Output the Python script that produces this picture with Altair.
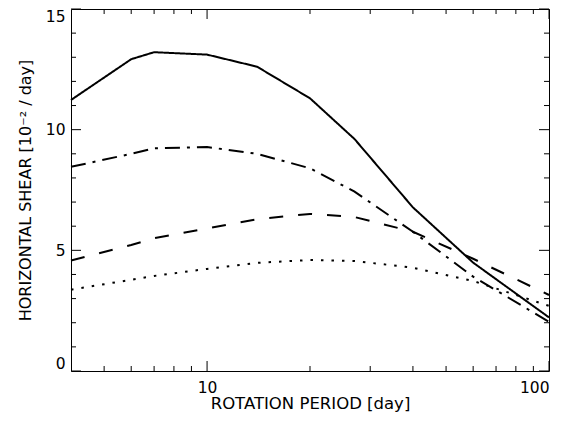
import altair as alt
import pandas as pd

# rotation period [day]
period = [4, 6, 7, 10, 14, 20, 27, 40, 60, 100]

# horizontal shear [1e-2 / day]
shear_solid = [11.23, 12.92, 13.21, 13.11, 12.61, 11.30, 9.61, 6.78, 4.49, 2.22]
shear_dashdot = [8.46, 9.00, 9.23, 9.28, 9.00, 8.40, 7.43, 5.77, 3.91, 2.04]
shear_dashed = [4.58, 5.22, 5.50, 5.91, 6.29, 6.51, 6.38, 5.77, 4.65, 3.15]
shear_dotted = [3.37, 3.78, 3.94, 4.23, 4.48, 4.60, 4.56, 4.28, 3.73, 2.70]

series_names = ["solid", "dashdot", "dashed", "dotted"]
series_values = [shear_solid, shear_dashdot, shear_dashed, shear_dotted]
series_dash = [[1, 0], [15, 7, 3, 7], [14, 15], [2.5, 8]]

# axis tick values
x_major = [10, 100]
x_minor = [5, 6, 7, 8, 9, 20, 30, 40, 50, 60, 70, 80, 90]
y_major = [0, 5, 10, 15]
y_minor = [1, 2, 3, 4, 6, 7, 8, 9, 11, 12, 13, 14]

rows = []
for name, vals in zip(series_names, series_values):
    for p, v in zip(period, vals):
        rows.append({"series": name, "period": p, "shear": v})
df = pd.DataFrame(rows)

W, H = 478, 362
MAJ, MIN = 10, 5
FONT = "DejaVu Sans"
X_TITLE = "ROTATION PERIOD [day]"
Y_TITLE = "HORIZONTAL SHEAR [10\u207b\u00b2 / day]"
X_DOMAIN = [4, 100]
Y_DOMAIN = [0, 15]
xscale = alt.Scale(type="log", domain=X_DOMAIN, nice=False)
yscale = alt.Scale(domain=Y_DOMAIN, nice=False, zero=False)

ax_x = alt.Axis(
    orient="bottom", values=x_major, ticks=False, grid=False, domain=False,
    labelFont=FONT, labelFontSize=15.5, labelColor="black",
    labelPadding=9,
    titleFont=FONT, titleFontSize=16.5, titleFontWeight="normal",
    titleColor="black", titlePadding=0,
)
ax_y = alt.Axis(
    orient="left", values=y_major, ticks=False, grid=False, domain=False,
    labelFont=FONT, labelFontSize=15.5, labelColor="black",
    labelPadding=6, labelFlush=True,
    titleFont=FONT, titleFontSize=16, titleFontWeight="normal",
    titleColor="black", titlePadding=12,
)

# inward tick segments (tick length in pixels converted to data units)
y_per_px = (Y_DOMAIN[1] - Y_DOMAIN[0]) / H
xlog_per_px = 10 ** ((2 - 0.60206) / W)  # log-decade span / width
tick_rows = []
k = 0
for vals, size in [(x_major, MAJ), (x_minor, MIN)]:
    for v in vals:
        for y0, y1 in [(Y_DOMAIN[0], Y_DOMAIN[0] + size * y_per_px),
                       (Y_DOMAIN[1], Y_DOMAIN[1] - size * y_per_px)]:
            tick_rows += [{"series": f"t{k}", "period": v, "shear": y0},
                          {"series": f"t{k}", "period": v, "shear": y1}]
            k += 1
for vals, size in [(y_major, MAJ), (y_minor, MIN)]:
    for v in vals:
        for x0, x1 in [(X_DOMAIN[0], X_DOMAIN[0] * xlog_per_px ** size),
                       (X_DOMAIN[1], X_DOMAIN[1] / xlog_per_px ** size)]:
            tick_rows += [{"series": f"t{k}", "period": x0, "shear": v},
                          {"series": f"t{k}", "period": x1, "shear": v}]
            k += 1
ticks_df = pd.DataFrame(tick_rows)

X = alt.X("period:Q", scale=xscale, axis=ax_x, title=X_TITLE)
Y = alt.Y("shear:Q", scale=yscale, axis=ax_y, title=Y_TITLE)

lines = alt.Chart(df).mark_line(color="black", strokeWidth=2).encode(
    x=X,
    y=Y,
    detail="series:N",
    strokeDash=alt.StrokeDash(
        "series:N",
        scale=alt.Scale(domain=series_names, range=series_dash),
        legend=None,
    ),
)

ticks = alt.Chart(ticks_df).mark_line(color="black", strokeWidth=1).encode(
    x=X, y=Y, detail="series:N"
)

chart = (
    alt.layer(lines, ticks)
    .properties(
        width=W,
        height=H,
        autosize=alt.AutoSizeParams(type="none"),
        padding={"left": 63, "top": 1, "right": 16, "bottom": 46},
        background="white",
    )
    .configure_view(stroke="black", strokeWidth=1)
)

chart.save("out.html", embed_options={"renderer": "svg", "actions": False})
